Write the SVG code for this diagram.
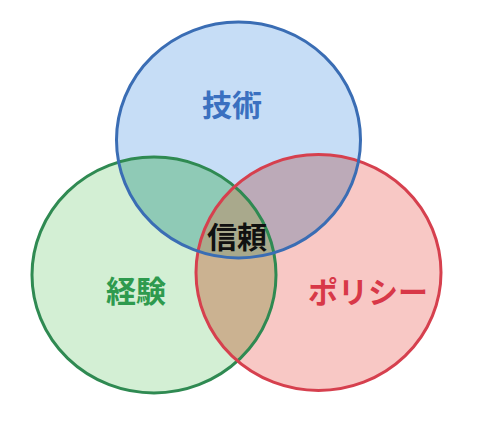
<svg xmlns="http://www.w3.org/2000/svg" width="500" height="437" viewBox="0 0 500 437">
<defs>
<style>
.lbl{font-family:"Noto Sans CJK JP","Noto Sans CJK SC",sans-serif;font-weight:bold;font-size:30px;text-anchor:middle;dominant-baseline:central}
.stroke{fill:none;stroke-width:3}
</style>
<clipPath id="cB"><ellipse cx="238.5" cy="140" rx="122" ry="118"/></clipPath>
<clipPath id="cG"><ellipse cx="154" cy="275" rx="122" ry="118"/></clipPath>
<clipPath id="cR"><ellipse cx="318.5" cy="272.5" rx="122.5" ry="118"/></clipPath>
</defs>
<rect width="500" height="437" fill="#ffffff"/>
<g id="fills">
<ellipse cx="238.5" cy="140" rx="122" ry="118" fill="#c6ddf6"/>
<ellipse cx="154" cy="275" rx="122" ry="118" fill="#d3efd4"/>
<ellipse cx="318.5" cy="272.5" rx="122.5" ry="118" fill="#f8c8c5"/>
<g clip-path="url(#cB)"><ellipse cx="154" cy="275" rx="122" ry="118" fill="#8fcab6"/></g>
<g clip-path="url(#cB)"><ellipse cx="318.5" cy="272.5" rx="122.5" ry="118" fill="#bcaab8"/></g>
<g clip-path="url(#cG)"><ellipse cx="318.5" cy="272.5" rx="122.5" ry="118" fill="#cbb291"/></g>
<g clip-path="url(#cG)"><g clip-path="url(#cR)"><ellipse cx="238.5" cy="140" rx="122" ry="118" fill="#a9a98c"/></g></g>
</g>
<g id="connectors"></g>
<g id="node-keiken">
<ellipse class="stroke" cx="154" cy="275" rx="122" ry="118" stroke="#2f8a52"/>
</g>
<g id="node-policy">
<ellipse class="stroke" cx="318.5" cy="272.5" rx="122.5" ry="118" stroke="#d6404e"/>
</g>
<g id="node-gijutsu">
<ellipse class="stroke" cx="238.5" cy="140" rx="122" ry="118" stroke="#3a6db4"/>
</g>
<g id="labels">
<text class="lbl" x="232" y="103" fill="#3a70c0">技術</text>
<text class="lbl" x="136" y="289" fill="#2e9a4e">経験</text>
<text class="lbl" x="368" y="290" fill="#d83848">ポリシー</text>
<text class="lbl" x="237" y="235" fill="#111111">信頼</text>
</g>
</svg>
